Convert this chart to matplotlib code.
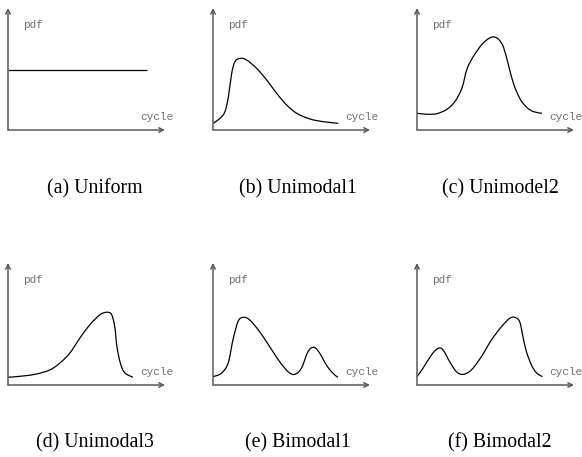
import matplotlib
matplotlib.use("Agg")
import matplotlib.pyplot as plt
from matplotlib.path import Path
from matplotlib.patches import PathPatch

# --- curve samples (cycle, pdf) ---
uniform_x = [0.0, 8.85]
uniform_y = [4.92, 4.92]

unimodal1_x = [0.02, 0.45, 0.76, 0.98, 1.19, 1.40, 1.72, 2.14, 2.78, 3.42,
               4.06, 4.69, 5.33, 6.18, 7.03, 7.98]
unimodal1_y = [0.55, 0.96, 1.50, 2.73, 4.64, 5.60, 5.87, 5.74, 5.05, 4.10,
               3.00, 2.05, 1.37, 0.90, 0.68, 0.55]

unimodel2_x = [0.0, 0.64, 1.27, 1.91, 2.44, 2.87, 3.18, 3.61, 4.14, 4.56,
               4.88, 5.20, 5.52, 5.84, 6.16, 6.58, 7.00, 7.43, 7.96]
unimodel2_y = [1.37, 1.29, 1.34, 1.70, 2.38, 3.47, 4.98, 6.07, 7.02, 7.49,
               7.63, 7.43, 6.75, 5.25, 3.75, 2.52, 1.84, 1.50, 1.37]

unimodal3_x = [0.0, 0.96, 1.81, 2.66, 3.29, 3.93, 4.57, 5.20, 5.84, 6.27,
               6.59, 6.80, 6.94, 7.16, 7.43, 7.96]
unimodal3_y = [0.63, 0.74, 0.90, 1.23, 1.78, 2.60, 3.83, 4.92, 5.74, 5.96,
               5.79, 4.78, 3.14, 1.78, 1.01, 0.63]

bimodal1_x = [0.0, 0.53, 0.96, 1.27, 1.59, 1.91, 2.34, 2.97, 3.61, 4.25,
              4.78, 5.20, 5.63, 6.05, 6.43, 6.80, 7.22, 7.64, 7.96]
bimodal1_y = [0.68, 0.96, 1.78, 3.69, 5.19, 5.55, 5.33, 4.37, 3.14, 1.91,
              1.09, 0.87, 1.37, 2.73, 3.09, 2.60, 1.64, 0.96, 0.63]

bimodal2_x = [0.0, 0.38, 0.92, 1.34, 1.66, 2.08, 2.51, 2.93, 3.46, 4.10,
              4.74, 5.38, 5.90, 6.22, 6.54, 6.75, 6.97, 7.29, 7.60, 7.99]
bimodal2_y = [0.68, 1.37, 2.46, 3.00, 2.87, 1.91, 1.09, 0.87, 1.23, 2.32,
              3.69, 4.78, 5.46, 5.55, 5.19, 3.96, 2.73, 1.64, 1.01, 0.68]

captions = ["(a) Uniform", "(b) Unimodal1", "(c) Unimodel2",
            "(d) Unimodal3", "(e) Bimodal1", "(f) Bimodal2"]
curves = [(uniform_x, uniform_y), (unimodal1_x, unimodal1_y),
          (unimodel2_x, unimodel2_y), (unimodal3_x, unimodal3_y),
          (bimodal1_x, bimodal1_y), (bimodal2_x, bimodal2_y)]


def smooth_path(xs, ys):
    """Bezier path through the samples (Catmull-Rom style handles)."""
    pts = list(zip(xs, ys))
    if len(pts) < 3:
        return Path(pts)
    verts = [pts[0]]
    codes = [Path.MOVETO]
    n = len(pts)
    for k in range(n - 1):
        p0 = pts[k - 1] if k > 0 else pts[k]
        p1, p2 = pts[k], pts[k + 1]
        p3 = pts[k + 2] if k + 2 < n else pts[k + 1]
        c1 = (p1[0] + (p2[0] - p0[0]) / 6, p1[1] + (p2[1] - p0[1]) / 6)
        c2 = (p2[0] - (p3[0] - p1[0]) / 6, p2[1] - (p3[1] - p1[1]) / 6)
        verts += [c1, c2, p2]
        codes += [Path.CURVE4] * 3
    return Path(verts, codes)


W, H = 582, 457
fig = plt.figure(figsize=(W / 100, H / 100), dpi=100)

col_left = [8, 213, 417]        # y-axis position of each column (px)
row_base = [130, 385]           # x-axis position of each row (px)
caption_x = [95, 298, 500]
caption_y = [189, 443]
panel_w, panel_h = 157, 122

axis_color = "#5a5a5a"
label_color = "#707070"

for i, (cx, cy) in enumerate(curves):
    r, c = divmod(i, 3)
    x0, y0 = col_left[c], row_base[r]
    ax = fig.add_axes([x0 / W, 1 - y0 / H, panel_w / W, panel_h / H])
    ax.set_xlim(0, 10)
    ax.set_ylim(0, 10)
    ax.axis("off")

    # arrowed axes
    arrow = dict(arrowstyle="->", color=axis_color, lw=1.1,
                 shrinkA=0, shrinkB=0, mutation_scale=8)
    ax.annotate("", xy=(10, 0), xytext=(0, 0), arrowprops=arrow,
                annotation_clip=False)
    ax.annotate("", xy=(0, 10), xytext=(0, 0), arrowprops=arrow,
                annotation_clip=False)

    ax.add_patch(PathPatch(smooth_path(cx, cy), facecolor="none",
                           edgecolor="black", lw=0.9, clip_on=False))

    ax.text(0.96, 8.6, "pdf", family="Liberation Mono", fontsize=8,
            color=label_color, va="center", ha="left")
    ax.text(8.4, 1.04, "cycle", family="Liberation Mono", fontsize=8,
            color=label_color, va="center", ha="left", clip_on=False)

    fig.text(caption_x[c] / W, 1 - caption_y[r] / H, captions[i],
             family="Liberation Serif", fontsize=14.3,
             ha="center", va="center")

fig.savefig("out.png", dpi=100)
